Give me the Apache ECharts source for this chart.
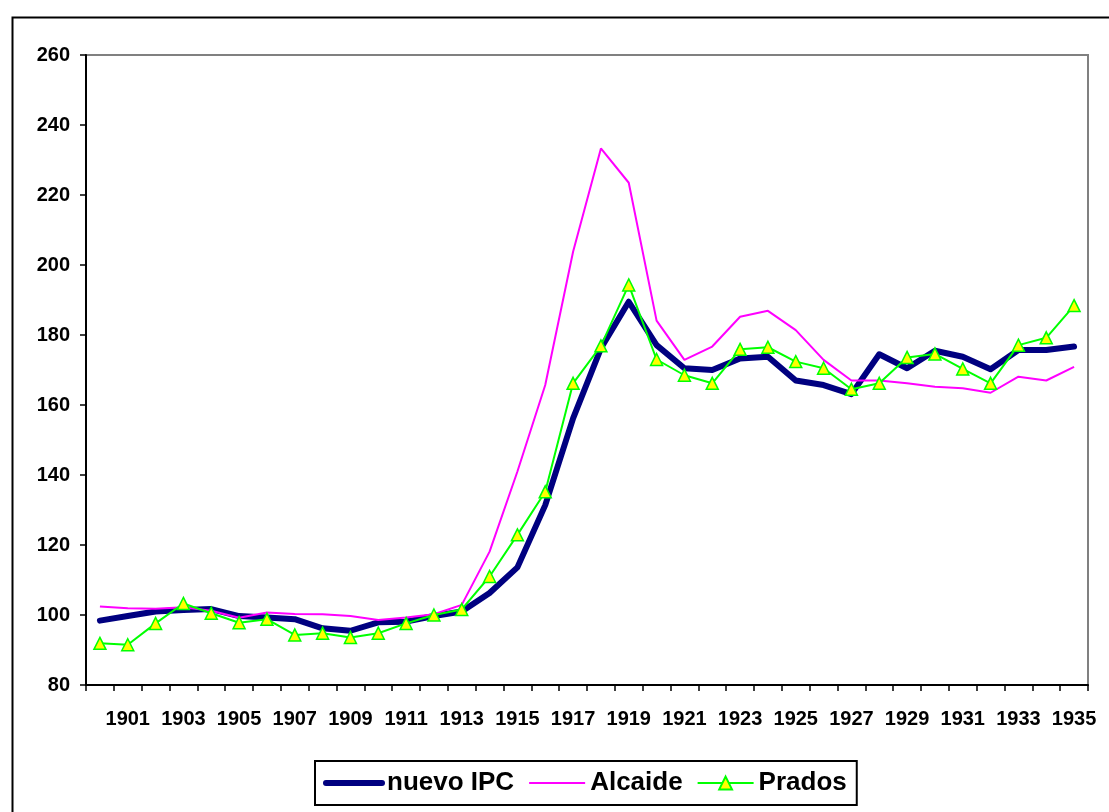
<!DOCTYPE html>
<html>
<head>
<meta charset="utf-8">
<script src="https://cdn.jsdelivr.net/npm/echarts@6/dist/echarts.min.js"></script>
<style>
html,body{margin:0;padding:0;background:#fff;}
#chart{width:1109px;height:812px;}
</style>
</head>
<body>
<div id="chart"></div>
<script>
const years = [];
for (let y = 1900; y <= 1935; y++) years.push(String(y));

const nuevoIPC = [98.4, 99.7, 101.0, 101.4, 101.7, 99.7, 99.3, 98.8, 96.2, 95.5,
  97.9, 98.1, 99.7, 101.0, 106.3, 113.6, 131.4, 156.2, 176.2, 189.5,
  177.1, 170.5, 170.0, 173.3, 173.8, 167.0, 165.7, 163.1, 174.5, 170.5,
  175.5, 173.8, 170.2, 175.7, 175.7, 176.7];

const alcaide = [102.4, 101.9, 101.8, 102.2, 101.2, 99.2, 100.7, 100.3, 100.2, 99.7,
  98.6, 99.3, 100.2, 102.9, 118.1, 141.0, 165.7, 203.8, 233.3, 223.5,
  184.1, 172.9, 176.7, 185.2, 186.9, 181.4, 172.9, 167.0, 167.0, 166.2,
  165.2, 164.8, 163.5, 168.1, 167.0, 170.9];

const prados = [91.9, 91.5, 97.6, 103.3, 100.5, 97.8, 98.8, 94.3, 94.8, 93.6,
  94.8, 97.6, 100.0, 101.6, 111.0, 122.9, 135.2, 166.2, 176.9, 194.3,
  173.0, 168.5, 166.2, 175.9, 176.5, 172.4, 170.5, 164.5, 166.2, 173.6,
  174.6, 170.3, 166.2, 177.1, 179.2, 188.4];

const seriesNames = ['nuevo IPC', 'Alcaide', 'Prados'];

const chart = echarts.init(document.getElementById('chart'), null, {renderer: 'canvas'});
const font = '"Liberation Sans", Arial, sans-serif';

chart.setOption({
  backgroundColor: '#fff',
  animation: false,
  graphic: [{
    type: 'rect',
    left: 10, top: 15,
    shape: {x: 0, y: 0, width: 1200, height: 900},
    style: {fill: 'none', stroke: '#000', lineWidth: 2},
    z: -10
  }],
  grid: {
    left: 86, top: 55, right: 21, bottom: 127,
    show: true, borderColor: '#808080', borderWidth: 2, backgroundColor: 'transparent'
  },
  legend: {
    left: 315, top: 761,
    padding: [9, 10, 9, 8],
    borderColor: '#000', borderWidth: 2,
    itemWidth: 56, itemHeight: 16, itemGap: 14,
    textStyle: {fontFamily: font, fontWeight: 'bold', fontSize: 26, color: '#000'},
    data: [
      {name: seriesNames[0], itemStyle: {opacity: 0}, lineStyle: {width: 6, cap: 'round'}},
      {name: seriesNames[1], itemStyle: {opacity: 0}, lineStyle: {width: 2}},
      {name: seriesNames[2], lineStyle: {width: 2}}
    ]
  },
  xAxis: {
    type: 'category',
    data: years,
    boundaryGap: true,
    axisLine: {lineStyle: {color: '#000', width: 2}},
    axisTick: {show: true, interval: 0, length: 6, lineStyle: {color: '#000', width: 1.5}},
    axisLabel: {
      interval: function (i) { return i % 2 === 1; },
      margin: 24,
      fontFamily: font, fontWeight: 'bold', fontSize: 20, color: '#000'
    },
    splitLine: {show: false}
  },
  yAxis: {
    type: 'value',
    min: 80, max: 260, interval: 20,
    axisLine: {show: true, lineStyle: {color: '#000', width: 2}},
    axisTick: {show: true, length: 6, lineStyle: {color: '#000', width: 1.5}},
    axisLabel: {margin: 16, fontFamily: font, fontWeight: 'bold', fontSize: 20, color: '#000'},
    splitLine: {show: false}
  },
  series: [
    {
      name: seriesNames[0], type: 'line', data: nuevoIPC,
      symbol: 'none', showSymbol: false,
      lineStyle: {color: '#000080', width: 6, join: 'round', cap: 'round'},
      itemStyle: {color: '#000080'},
      z: 2
    },
    {
      name: seriesNames[1], type: 'line', data: alcaide,
      symbol: 'none', showSymbol: false,
      lineStyle: {color: '#FF00FF', width: 2},
      itemStyle: {color: '#FF00FF'},
      z: 3
    },
    {
      name: seriesNames[2], type: 'line', data: prados,
      symbol: 'triangle', symbolSize: 12, showSymbol: true,
      lineStyle: {color: '#00FF00', width: 2},
      itemStyle: {color: '#FFFF00', borderColor: '#00FF00', borderWidth: 1.5},
      z: 4
    }
  ]
});
</script>
</body>
</html>
